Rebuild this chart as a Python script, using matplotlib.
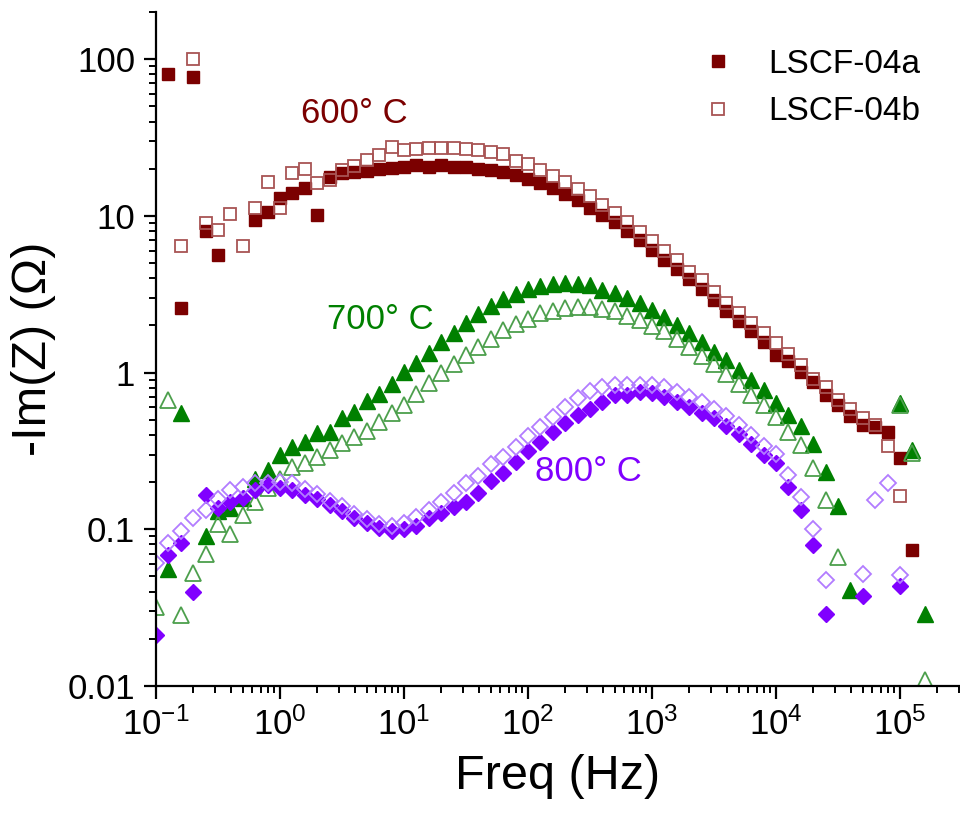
import numpy as np
import matplotlib
matplotlib.use("Agg")
import matplotlib.pyplot as plt
from matplotlib.ticker import LogLocator, FixedLocator, FixedFormatter, NullFormatter

plt.rcParams['font.family'] = ['Liberation Sans', 'DejaVu Sans']
plt.rcParams['mathtext.fontset'] = 'custom'
plt.rcParams['mathtext.rm'] = 'Liberation Sans'
plt.rcParams['mathtext.it'] = 'Liberation Sans:italic'

nan = np.nan

# frequency grid (Hz), 10 points per decade
freq = [0.1, 0.126, 0.158, 0.2, 0.251, 0.316, 0.398, 0.501, 0.631, 0.794,
        1.0, 1.26, 1.58, 2.0, 2.51, 3.16, 3.98, 5.01, 6.31, 7.94,
        10.0, 12.6, 15.8, 20.0, 25.1, 31.6, 39.8, 50.1, 63.1, 79.4,
        100, 126, 158, 200, 251, 316, 398, 501, 631, 794,
        1000, 1259, 1585, 1995, 2512, 3162, 3981, 5012, 6310, 7943,
        1e4, 12589, 15849, 19953, 25119, 31623, 39811, 50119, 63096, 79433,
        1e5, 125893, 158489]

# 600 C
lscf_600a = [nan, 80, 2.6, 77, 8.0, 5.6, nan, nan, 9.4, 10.6,
             13.0, 14.1, 15.0, 10.1, 17.6, 18.7, 19.0, 19.4, 19.8, 20.3,
             20.5, 21.0, 20.5, 21.2, 20.5, 20.4, 19.8, 19.6, 19.0, 18.2,
             17.3, 16.2, 15.0, 13.7, 12.6, 11.3, 10.1, 9.1, 8.0, 7.0,
             6.1, 5.25, 4.55, 3.94, 3.41, 2.90, 2.48, 2.13, 1.83, 1.57,
             1.30, 1.18, 1.01, 0.867, 0.72, 0.62, 0.53, 0.46, 0.45, 0.42,
             0.285, 0.074, nan]
lscf_600b = [nan, nan, 6.45, 100, 8.97, 8.13, 10.3, 6.43, 11.3, 16.4,
             11.3, 18.7, 20.0, 16.2, 16.9, 19.5, 20.9, 22.7, 24.5, 27.4,
             26.4, 26.8, 27.1, 27.3, 27.3, 26.9, 26.2, 25.4, 24.9, 22.5,
             21.4, 19.6, 17.9, 16.4, 14.8, 13.3, 11.7, 10.5, 9.2, 7.9,
             6.9, 6.0, 5.26, 4.4, 3.9, 3.28, 2.79, 2.41, 2.06, 1.78,
             1.55, 1.31, 1.12, 0.915, 0.81, 0.67, 0.59, 0.51, 0.465, 0.34,
             0.163, nan, nan]

# 700 C
lscf_700a = [nan, 0.056, 0.55, nan, 0.09, 0.13, 0.136, 0.158, 0.21, 0.239,
             0.298, 0.337, 0.362, 0.41, 0.415, 0.51, 0.562, 0.66, 0.73, 0.84,
             1.01, 1.15, 1.34, 1.57, 1.80, 2.08, 2.35, 2.66, 2.94, 3.18,
             3.40, 3.57, 3.68, 3.72, 3.70, 3.60, 3.37, 3.20, 2.98, 2.77,
             2.51, 2.27, 2.01, 1.78, 1.57, 1.36, 1.20, 1.04, 0.90, 0.774,
             0.64, 0.536, 0.453, 0.348, 0.233, 0.14, 0.041, nan, nan, nan,
             0.64, 0.32, 0.029]
lscf_700b = [0.032, 0.668, 0.0284, 0.0524, 0.0696, 0.108, 0.094, 0.124, 0.150, 0.183,
             0.21, 0.249, 0.264, 0.29, 0.319, 0.354, 0.386, 0.426, 0.486, 0.55,
             0.62, 0.73, 0.855, 0.99, 1.13, 1.29, 1.46, 1.65, 1.87, 2.04,
             2.19, 2.41, 2.48, 2.57, 2.63, 2.63, 2.54, 2.48, 2.30, 2.17,
             1.98, 1.84, 1.64, 1.45, 1.28, 1.13, 0.98, 0.84, 0.72, 0.62,
             0.52, 0.42, 0.345, 0.245, 0.154, 0.067, nan, nan, nan, nan,
             0.62, 0.305, 0.011]

# 800 C
lscf_800a = [0.0212, 0.0686, 0.0822, 0.0396, 0.166, 0.136, 0.150, 0.158, 0.178, 0.193,
             0.183, 0.178, 0.166, 0.155, 0.143, 0.131, 0.1175, 0.110, 0.1015, 0.098,
             0.101, 0.105, 0.1175, 0.128, 0.138, 0.15, 0.171, 0.204, 0.23, 0.27,
             0.316, 0.362, 0.42, 0.479, 0.536, 0.59, 0.651, 0.72, 0.72, 0.755,
             0.74, 0.70, 0.651, 0.605, 0.555, 0.51, 0.456, 0.404, 0.35, 0.298,
             0.264, 0.187, 0.133, 0.0794, 0.029, nan, nan, 0.0375, nan, nan,
             0.0435, nan, nan]
lscf_800b = [0.0612, 0.082, 0.098, 0.1175, 0.133, 0.155, 0.178, 0.185, 0.198, 0.198,
             0.201, 0.198, 0.18, 0.167, 0.152, 0.14, 0.125, 0.116, 0.108, 0.105,
             0.11, 0.12, 0.132, 0.15, 0.17, 0.197, 0.219, 0.261, 0.29, 0.337,
             0.394, 0.452, 0.52, 0.605, 0.686, 0.767, 0.805, 0.834, 0.834, 0.834,
             0.834, 0.805, 0.755, 0.70, 0.651, 0.59, 0.528, 0.463, 0.40, 0.341,
             0.303, 0.222, 0.161, 0.101, 0.0474, nan, nan, 0.0516, 0.154, 0.198,
             0.051, nan, nan]

c600, c600o = '#7b0000', '#a85454'
c700, c700o = '#008000', '#4c9f4c'
c800, c800o = '#8000ff', '#b27cff'

fig = plt.figure(figsize=(9.6, 8.13), dpi=100)
ax = fig.add_axes([0.1625, 0.1562, 0.8375, 0.829])

ax.plot(freq, lscf_600a, 's', ms=9, color=c600, mec=c600, ls='none', label='LSCF-04a')
ax.plot(freq, lscf_600b, 's', ms=9, mfc='none', mec=c600o, mew=1.3, ls='none', label='LSCF-04b')
ax.plot(freq, lscf_700a, '^', ms=11, color=c700, mec=c700, ls='none')
ax.plot(freq, lscf_700b, '^', ms=11, mfc='none', mec=c700o, mew=1.3, ls='none')
ax.plot(freq, lscf_800a, 'D', ms=8.5, color=c800, mec=c800, ls='none')
ax.plot(freq, lscf_800b, 'D', ms=8.5, mfc='none', mec=c800o, mew=1.3, ls='none')

ax.text(3.95, 45, '600° C', color=c600, fontsize=25, ha='center', va='center')
ax.text(6.4, 2.17, '700° C', color=c700, fontsize=25, ha='center', va='center')
ax.text(305, 0.235, '800° C', color=c800, fontsize=25, ha='center', va='center')

ax.set_xscale('log')
ax.set_yscale('log')
ax.set_xlim(0.1, 3.05e5)
ax.set_ylim(0.01, 200)

ax.yaxis.set_major_locator(FixedLocator([0.01, 0.1, 1, 10, 100]))
ax.yaxis.set_major_formatter(FixedFormatter(['0.01', '0.1', '1', '10', '100']))
ax.yaxis.set_minor_locator(LogLocator(base=10, subs=np.arange(2, 10)))
ax.yaxis.set_minor_formatter(NullFormatter())
ax.xaxis.set_major_locator(LogLocator(base=10, numticks=20))
ax.xaxis.set_minor_locator(LogLocator(base=10, subs=np.arange(2, 10), numticks=20))
ax.xaxis.set_minor_formatter(NullFormatter())

for s in ['top', 'right']:
    ax.spines[s].set_visible(False)
for s in ['left', 'bottom']:
    ax.spines[s].set_linewidth(1.6)
ax.tick_params(which='major', length=9, width=1.6, labelsize=25, pad=6)
ax.tick_params(which='minor', length=5, width=1.4)

ax.set_xlabel('Freq (Hz)', fontsize=35, labelpad=9)
ax.set_ylabel('-Im(Z) (Ω)', fontsize=35, labelpad=8)

ax.legend(loc='upper right', bbox_to_anchor=(0.988, 0.99), frameon=False, fontsize=24,
          handlelength=0.6, handletextpad=1.2, labelspacing=0.5, markerscale=0.9)

fig.savefig('out.png', dpi=100)
